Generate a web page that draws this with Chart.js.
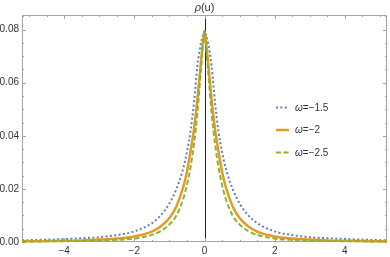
<!DOCTYPE html>
<html>
<head>
<meta charset="utf-8">
<script src="https://cdn.jsdelivr.net/npm/chart.js@4"></script>
<style>
  html, body { margin: 0; padding: 0; background: #fff; }
  #wrap { width: 390px; height: 257px; }
</style>
</head>
<body>
<div id="wrap"><canvas id="c" width="390" height="257"></canvas></div>
<script>
const uVals = [-5.2, -5, -4.5, -4, -3.5, -3, -2.5, -2, -1.5, -1.25, -1, -0.8, -0.6, -0.5, -0.4, -0.3, -0.2, -0.1, -0.05,
  0, 0.05, 0.1, 0.2, 0.3, 0.4, 0.5, 0.6, 0.8, 1, 1.25, 1.5, 2, 2.5, 3, 3.5, 4, 4.5, 5, 5.2];

// omega = -1.5
const rhoA = [0.00065, 0.0007, 0.0009, 0.0011, 0.0014, 0.0018, 0.0026, 0.0040, 0.0071, 0.0100, 0.0145, 0.0200, 0.0280, 0.0340, 0.0415, 0.0525, 0.0665, 0.0750, 0.0775,
  0.0795, 0.0775, 0.0750, 0.0665, 0.0525, 0.0415, 0.0340, 0.0280, 0.0200, 0.0145, 0.0100, 0.0071, 0.0040, 0.0026, 0.0018, 0.0014, 0.0011, 0.0009, 0.0007, 0.00065];
// omega = -2
const rhoB = [0.00025, 0.00028, 0.00035, 0.00045, 0.0006, 0.0009, 0.0013, 0.0021, 0.0039, 0.0058, 0.0090, 0.0135, 0.0210, 0.0265, 0.0340, 0.0425, 0.0540, 0.0680, 0.0745,
  0.0795, 0.0745, 0.0680, 0.0540, 0.0425, 0.0340, 0.0265, 0.0210, 0.0135, 0.0090, 0.0058, 0.0039, 0.0021, 0.0013, 0.0009, 0.0006, 0.00045, 0.00035, 0.00028, 0.00025];
// omega = -2.5
const rhoC = [0.00018, 0.0002, 0.00024, 0.0003, 0.0004, 0.00055, 0.0008, 0.0013, 0.0027, 0.0041, 0.0066, 0.0100, 0.0165, 0.0215, 0.0280, 0.0370, 0.0490, 0.0650, 0.0730,
  0.0795, 0.0730, 0.0650, 0.0490, 0.0370, 0.0280, 0.0215, 0.0165, 0.0100, 0.0066, 0.0041, 0.0027, 0.0013, 0.0008, 0.00055, 0.0004, 0.0003, 0.00024, 0.0002, 0.00018];

const seriesNames = ['-1.5', '-2', '-2.5'];
const xTicks = [-4, -2, 0, 2, 4];
const yTicks = [0, 0.02, 0.04, 0.06, 0.08];

const FONT = '"Liberation Sans", Arial, sans-serif';
const FRAME = '#a3a3a3';
const TEXT = '#333';

const pts = arr => arr.map((v, i) => ({ x: uVals[i], y: v }));
const minus = s => String(s).replace('-', '\u2212');

const framePlugin = {
  id: 'frame',
  beforeDatasetsDraw(chart) {
    const { ctx, chartArea: a, scales: { x, y } } = chart;
    ctx.save();
    // axis at u = 0
    const x0 = Math.round(x.getPixelForValue(0)) + 0.5;
    ctx.strokeStyle = '#222';
    ctx.lineWidth = 1;
    ctx.beginPath();
    ctx.moveTo(x0, a.top);
    ctx.lineTo(x0, a.bottom);
    ctx.stroke();

    // frame
    ctx.strokeStyle = FRAME;
    ctx.beginPath();
    ctx.rect(Math.round(a.left) + 0.5, Math.round(a.top) + 0.5,
      Math.round(a.right - a.left) - 1, Math.round(a.bottom - a.top) - 1);
    ctx.stroke();

    // ticks on all four sides
    ctx.beginPath();
    for (let i = -10; i <= 10; i++) {
      const px = Math.round(x.getPixelForValue(i / 2)) + 0.5;
      const len = (i % 4 === 0) ? 4 : 2;
      ctx.moveTo(px, a.bottom);
      ctx.lineTo(px, a.bottom - len);
      ctx.moveTo(px, a.top);
      ctx.lineTo(px, a.top + len);
    }
    for (let i = 0; i <= 17; i++) {
      const py = Math.round(y.getPixelForValue(i * 0.005)) + 0.5;
      const len = (i % 4 === 0) ? 4 : 2;
      ctx.moveTo(a.left, py);
      ctx.lineTo(a.left + len, py);
      ctx.moveTo(a.right, py);
      ctx.lineTo(a.right - len, py);
    }
    ctx.stroke();
    ctx.restore();
  },
  afterDatasetsDraw(chart) {
    const { ctx, scales: { x } } = chart;
    ctx.save();
    // title above the axis
    const x0 = x.getPixelForValue(0);
    ctx.fillStyle = TEXT;
    ctx.textBaseline = 'alphabetic';
    ctx.font = 'italic 11px ' + FONT;
    const w1 = ctx.measureText('\u03c1').width;
    ctx.font = '11px ' + FONT;
    const w2 = ctx.measureText('(u)').width;
    const start = x0 - (w1 + w2) / 2;
    ctx.font = 'italic 11px ' + FONT;
    ctx.fillText('\u03c1', start, 11);
    ctx.font = '11px ' + FONT;
    ctx.fillText('(u)', start + w1, 11);

    // legend
    const rows = [107.5, 130, 152.5];
    chart.data.datasets.forEach((ds, i) => {
      const yy = rows[i];
      ctx.strokeStyle = ds.borderColor;
      ctx.lineWidth = ds.borderWidth;
      ctx.setLineDash(ds.borderDash || []);
      ctx.lineCap = 'butt';
      ctx.beginPath();
      ctx.moveTo(276, yy);
      ctx.lineTo(289, yy);
      ctx.stroke();
      ctx.setLineDash([]);
      ctx.fillStyle = TEXT;
      ctx.textBaseline = 'middle';
      ctx.font = 'italic 10px ' + FONT;
      ctx.fillText('\u03c9', 295, yy + 0.5);
      const ww = ctx.measureText('\u03c9').width;
      ctx.font = '10px ' + FONT;
      ctx.fillText('=' + minus(seriesNames[i]), 295 + ww, yy + 0.5);
    });
    ctx.restore();
  }
};

new Chart(document.getElementById('c'), {
  type: 'line',
  data: {
    datasets: [
      { label: 'w=-1.5', data: pts(rhoA), borderColor: '#5e81b5', borderWidth: 2, borderDash: [2, 2.4], order: 2 },
      { label: 'w=-2', data: pts(rhoB), borderColor: '#e19c24', borderWidth: 2.5, order: 1 },
      { label: 'w=-2.5', data: pts(rhoC), borderColor: '#8fb032', borderWidth: 2, borderDash: [5, 2.5], order: 0 }
    ]
  },
  options: {
    responsive: false,
    animation: false,
    devicePixelRatio: 1,
    layout: { padding: { top: 15, right: 3, left: 0, bottom: 0 } },
    elements: {
      point: { radius: 0 },
      line: { cubicInterpolationMode: 'monotone', fill: false }
    },
    datasets: { line: { clip: false } },
    plugins: { legend: { display: false }, tooltip: { enabled: false } },
    scales: {
      x: {
        type: 'linear',
        min: -5.2,
        max: 5.2,
        afterBuildTicks: s => { s.ticks = xTicks.map(v => ({ value: v })); },
        afterFit: s => { s.height = 15; },
        grid: { display: false, drawTicks: false },
        border: { display: false },
        ticks: {
          autoSkip: false, maxRotation: 0, padding: 3,
          color: TEXT, font: { family: FONT, size: 10 },
          callback: v => minus(v)
        }
      },
      y: {
        type: 'linear',
        min: 0,
        max: 0.0855,
        afterBuildTicks: s => { s.ticks = yTicks.map(v => ({ value: v })); },
        afterFit: s => { s.width = 22; },
        grid: { display: false, drawTicks: false },
        border: { display: false },
        ticks: {
          autoSkip: false, padding: 3,
          color: TEXT, font: { family: FONT, size: 10 },
          callback: v => v.toFixed(2)
        }
      }
    }
  },
  plugins: [framePlugin]
});
</script>
</body>
</html>
